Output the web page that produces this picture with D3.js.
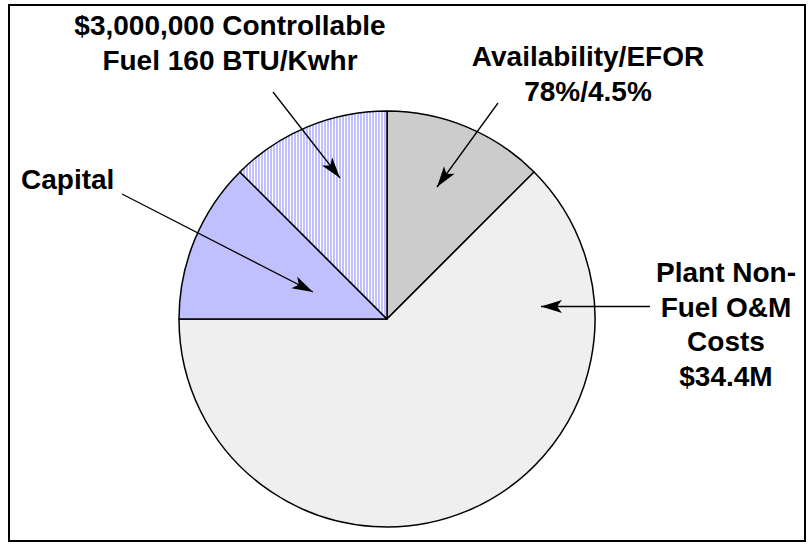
<!DOCTYPE html>
<html>
<head>
<meta charset="utf-8">
<script src="https://cdn.jsdelivr.net/npm/d3@7"></script>
<style>
  html, body { margin: 0; padding: 0; background: #fff; }
  svg { display: block; }
  text { font-family: "Liberation Sans", Arial, sans-serif; font-weight: bold; fill: #000; }
</style>
</head>
<body>
<svg id="chart" width="811" height="546"></svg>
<script>
// ---- data (clockwise from 12 o'clock) ----
const categories = ["Availability/EFOR", "Plant Non-Fuel O&M Costs", "Capital", "Controllable Fuel"];
const shares = [12.5, 62.5, 12.5, 12.5];
const labelLines = [
  ["Availability/EFOR", "78%/4.5%"],
  ["Plant Non-", "Fuel O&M", "Costs", "$34.4M"],
  ["Capital"],
  ["$3,000,000 Controllable", "Fuel 160 BTU/Kwhr"]
];

// ---- layout ----
const W = 811, H = 546;
const cx = 387, cy = 319, R = 208;
const fontSize = 28, lineH = 34.5;

// label anchors: [x, first baseline, anchor], arrow [x1,y1,x2,y2]
const labelPos = [
  { x: 588, y: 66, anchor: "middle", arrow: [498, 103, 437, 187] },
  { x: 726, y: 282, anchor: "middle", arrow: [650, 306.5, 541, 306.5] },
  { x: 21, y: 189, anchor: "start", arrow: [122, 194, 313, 292] },
  { x: 230, y: 35, anchor: "middle", arrow: [273, 92, 340, 178] }
];

const svg = d3.select("#chart");
const defs = svg.append("defs");

// hatched pattern (vertical stripes)
const hatch = defs.append("pattern")
  .attr("id", "hatch").attr("patternUnits", "userSpaceOnUse")
  .attr("width", 3).attr("height", 3);
hatch.append("rect").attr("width", 3).attr("height", 3).attr("fill", "#ffffff");
hatch.append("rect").attr("width", 2).attr("height", 3).attr("fill", "#c0c0ff");

// fine dither pattern for the large slice
const dither = defs.append("pattern")
  .attr("id", "dither").attr("patternUnits", "userSpaceOnUse")
  .attr("width", 2).attr("height", 2);
dither.append("rect").attr("width", 2).attr("height", 2).attr("fill", "#f3f3f3");
dither.append("rect").attr("width", 1).attr("height", 1).attr("fill", "#ebebeb");
dither.append("rect").attr("x", 1).attr("y", 1).attr("width", 1).attr("height", 1).attr("fill", "#ebebeb");

// arrowhead marker
defs.append("marker")
  .attr("id", "arrow").attr("markerUnits", "userSpaceOnUse")
  .attr("viewBox", "-22 -8 24 16").attr("refX", 0).attr("refY", 0)
  .attr("markerWidth", 24).attr("markerHeight", 16).attr("orient", "auto")
  .append("path").attr("d", "M0,0 L-21,-6.5 L-16,0 L-21,6.5 Z").attr("fill", "#000");

const fills = ["#cccccc", "url(#dither)", "#c0c0ff", "url(#hatch)"];
const color = d3.scaleOrdinal().domain(categories).range(fills);

// frame
svg.append("rect").attr("x", 9).attr("y", 5).attr("width", 796).attr("height", 536)
  .attr("fill", "none").attr("stroke", "#000").attr("stroke-width", 2);

const pie = d3.pie().sort(null).value(d => d.v);
const arcs = pie(categories.map((c, i) => ({ c, v: shares[i] })));
const arc = d3.arc().innerRadius(0).outerRadius(R);

const g = svg.append("g").attr("transform", `translate(${cx},${cy})`);
g.selectAll("path.slice").data(arcs).enter().append("path")
  .attr("class", "slice")
  .attr("d", arc)
  .attr("fill", d => color(d.data.c))
  .attr("stroke", "#000").attr("stroke-width", 1.5).attr("stroke-linejoin", "round");

// arrows
svg.selectAll("line.arrow").data(labelPos).enter().append("line")
  .attr("class", "arrow")
  .attr("x1", d => d.arrow[0]).attr("y1", d => d.arrow[1])
  .attr("x2", d => d.arrow[2]).attr("y2", d => d.arrow[3])
  .attr("stroke", "#000").attr("stroke-width", 1.3)
  .attr("marker-end", "url(#arrow)");

// labels
labelLines.forEach((lines, i) => {
  const p = labelPos[i];
  const t = svg.append("text").attr("font-size", fontSize).attr("text-anchor", p.anchor);
  lines.forEach((ln, j) => {
    t.append("tspan").attr("x", p.x).attr("y", p.y + j * lineH).text(ln);
  });
});
</script>
</body>
</html>
